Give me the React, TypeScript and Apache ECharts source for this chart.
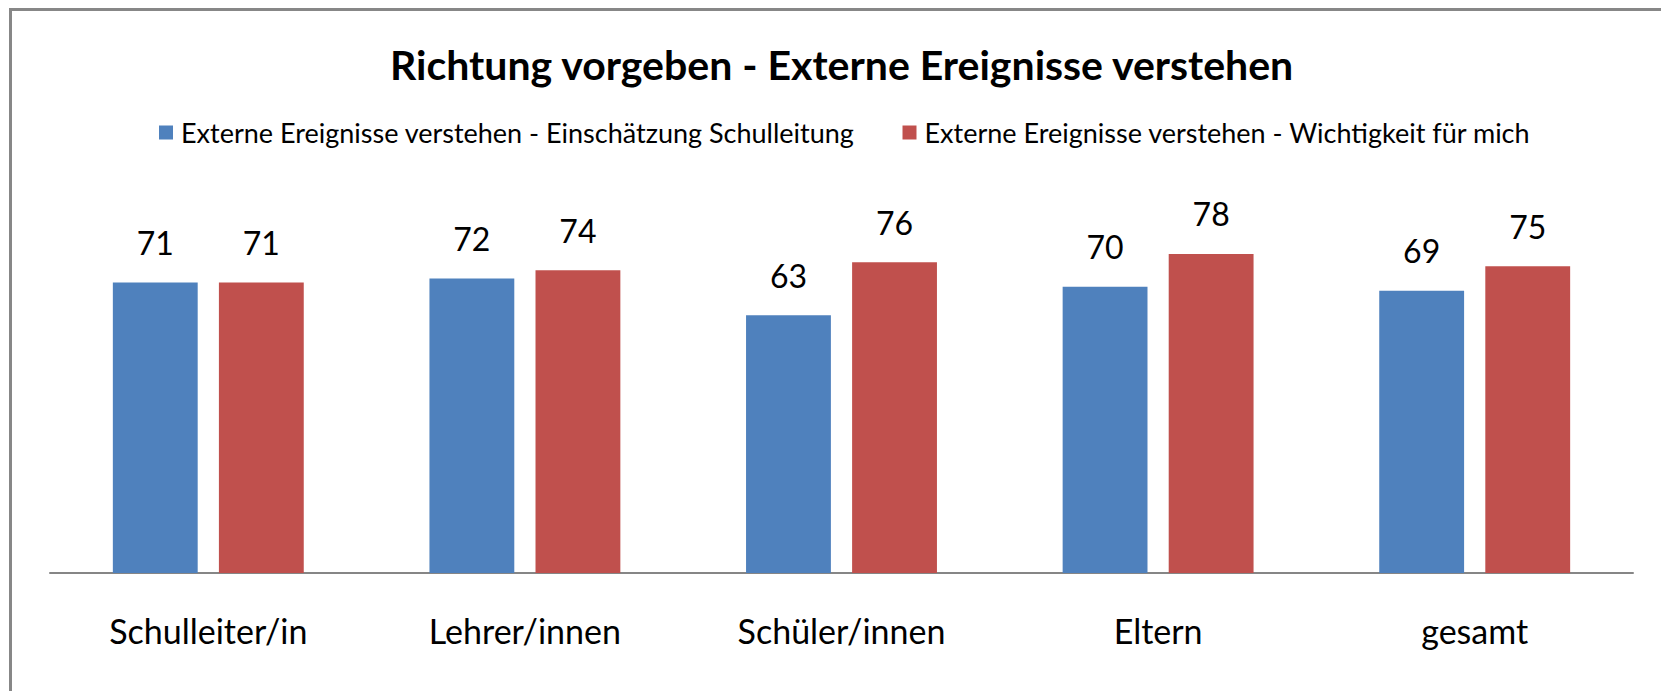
import React, { useEffect, useRef } from "react";
import * as echarts from "echarts";

const categories = ["Schulleiter/in", "Lehrer/innen", "Schüler/innen", "Eltern", "gesamt"];
const seriesNames = [
  "Externe Ereignisse verstehen - Einschätzung Schulleitung",
  "Externe Ereignisse verstehen - Wichtigkeit für mich",
];
const schulleitung = [71, 72, 63, 70, 69];
const wichtigkeit = [71, 74, 76, 78, 75];
const titleText = "Richtung vorgeben - Externe Ereignisse verstehen";

const FONT = "Lato, 'Open Sans', sans-serif";

export default function App() {
  const ref = useRef<HTMLDivElement>(null);
  useEffect(() => {
    document.body.style.margin = "0";
    document.body.style.overflow = "hidden";
    document.documentElement.style.overflow = "hidden";
    const chart = echarts.init(ref.current!, null, { renderer: "svg" });
    const labelStyle = {
      show: true,
      position: "top" as const,
      distance: 24,
      fontFamily: FONT,
      fontSize: 32,
      color: "#000",
    };
    chart.setOption({
      animation: false,
      backgroundColor: "#fff",
      title: {
        text: titleText,
        left: 385,
        top: 39,
        textStyle: { fontFamily: FONT, fontWeight: "bold", fontSize: 41, color: "#000" },
      },
      legend: {
        top: 114,
        left: 154,
        itemWidth: 14,
        itemHeight: 14,
        itemGap: 48,
        icon: "rect",
        textStyle: { fontFamily: FONT, fontSize: 27, color: "#000", padding: [0, 0, 0, 3] },
        data: seriesNames,
      },
      graphic: [
        {
          type: "line",
          shape: { x1: 10.5, y1: 8, x2: 10.5, y2: 700 },
          style: { stroke: "#878787", lineWidth: 3 },
        },
        {
          type: "line",
          shape: { x1: 9, y1: 9.5, x2: 1670, y2: 9.5 },
          style: { stroke: "#878787", lineWidth: 3 },
        },
      ],
      grid: { left: 50, right: 28, top: 164, bottom: 118 },
      xAxis: {
        type: "category",
        data: categories,
        axisLine: { lineStyle: { color: "#868686", width: 2 } },
        axisTick: { show: false },
        axisLabel: { fontFamily: FONT, fontSize: 34, color: "#000", margin: 40 },
      },
      yAxis: {
        type: "value",
        min: 0,
        max: 100,
        show: false,
        splitLine: { show: false },
      },
      series: [
        {
          name: seriesNames[0],
          type: "bar",
          data: schulleitung,
          barWidth: "26.8%",
          barGap: "25%",
          itemStyle: { color: "#4F81BD" },
          label: labelStyle,
        },
        {
          name: seriesNames[1],
          type: "bar",
          data: wichtigkeit,
          barWidth: "26.8%",
          barGap: "25%",
          itemStyle: { color: "#C0504D" },
          label: labelStyle,
        },
      ],
    });
    return () => chart.dispose();
  }, []);
  return <div ref={ref} style={{ width: 1661, height: 691 }} />;
}
